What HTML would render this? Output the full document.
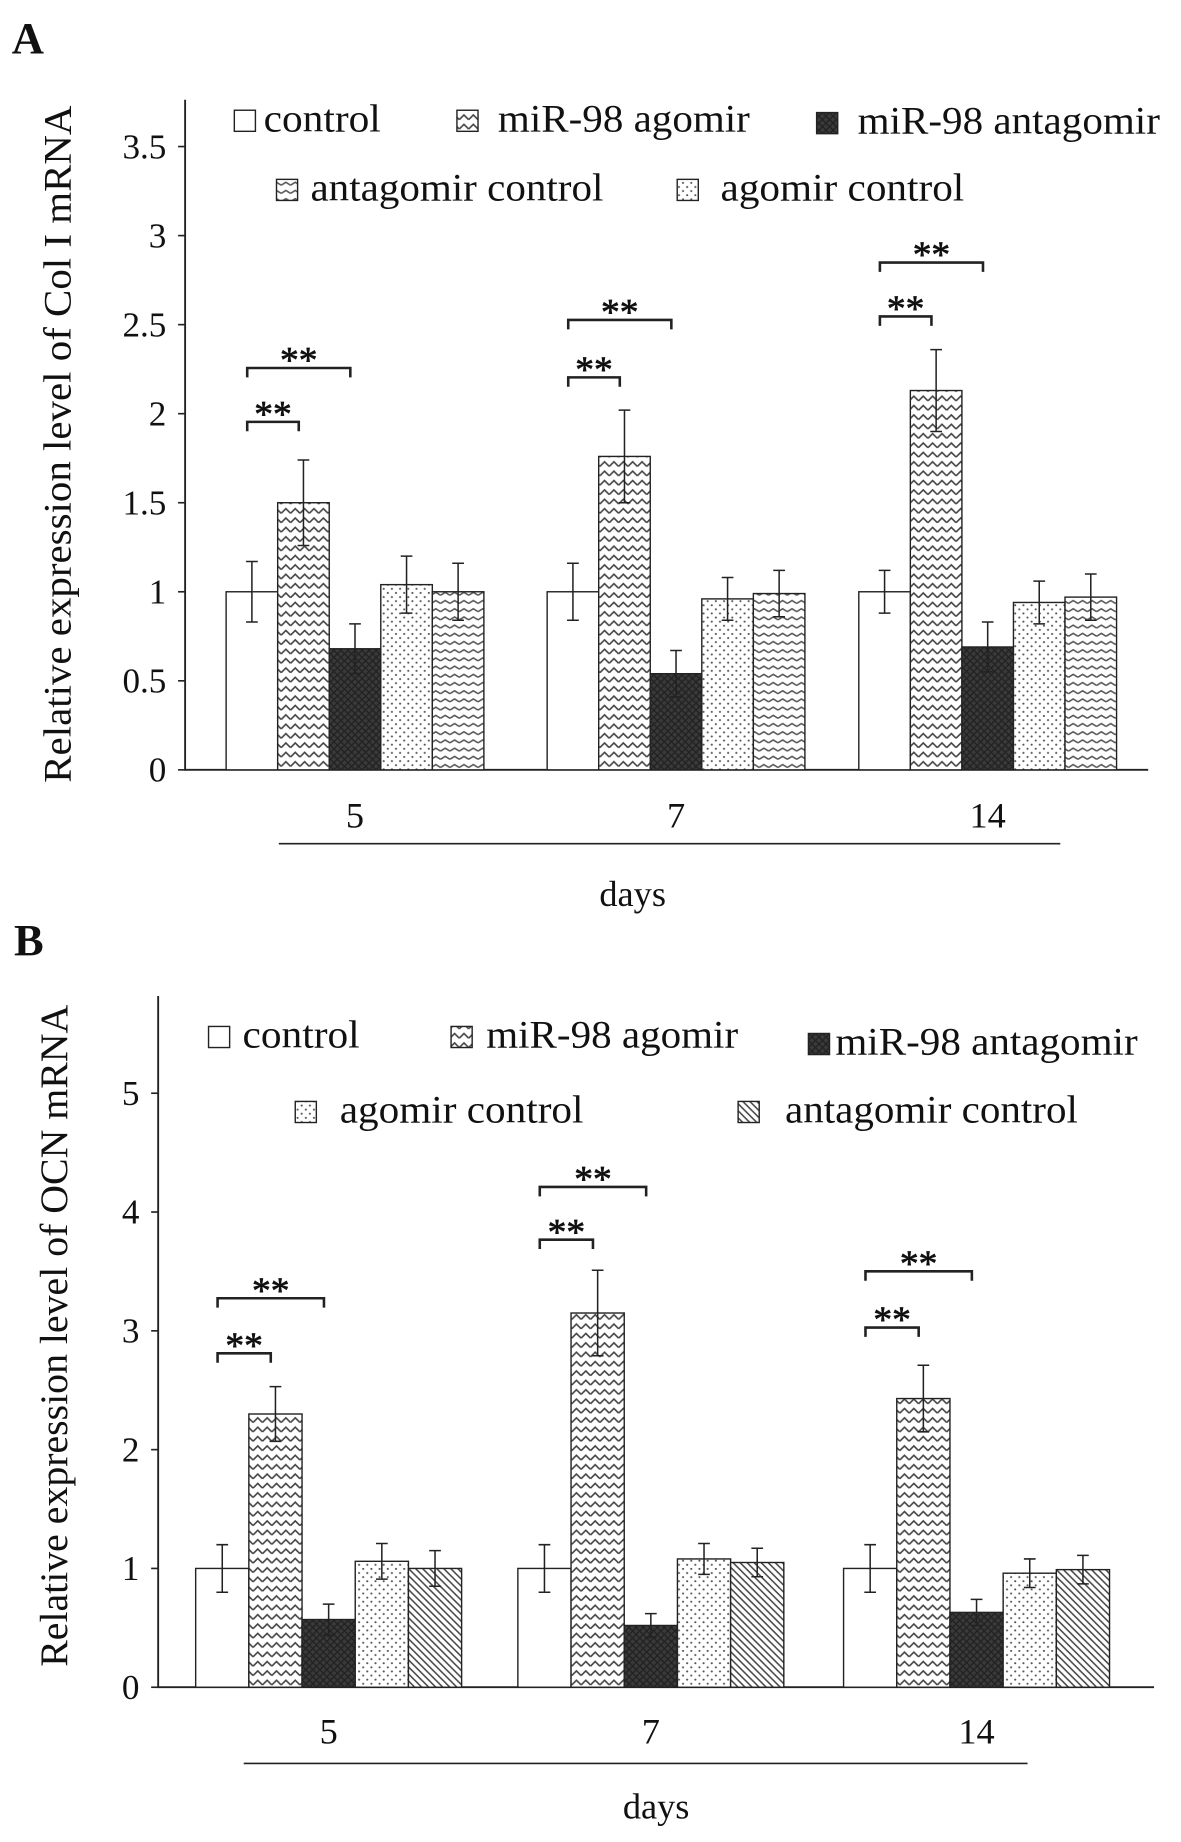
<!DOCTYPE html>
<html><head><meta charset="utf-8">
<style>
html,body{margin:0;padding:0;background:#fff}
svg{display:block}
text{font-family:"Liberation Serif",serif;fill:#111}
</style></head>
<body>
<svg id="fig" width="1181" height="1842" viewBox="0 0 1008 1572" xmlns="http://www.w3.org/2000/svg">
<defs>
<pattern id="zig" width="8" height="8" patternUnits="userSpaceOnUse"><rect width="8" height="8" fill="#fff"/><path d="M0 6 L4 2 L8 6" fill="none" stroke="#444" stroke-width="1.4"/></pattern>
<pattern id="dark" width="6" height="6" patternUnits="userSpaceOnUse"><rect width="6" height="6" fill="#3a3a3a"/><path d="M0 0 L6 6 M6 0 L0 6" stroke="#222" stroke-width="1.2"/></pattern>
<pattern id="dots" width="7" height="7" patternUnits="userSpaceOnUse"><rect width="7" height="7" fill="#fff"/><circle cx="2" cy="2" r="0.9" fill="#555"/><circle cx="5.5" cy="5.5" r="0.9" fill="#555"/></pattern>
<pattern id="hwave" width="8" height="7" patternUnits="userSpaceOnUse"><rect width="8" height="7" fill="#fff"/><path d="M0 4 L4 1.5 L8 4" fill="none" stroke="#555" stroke-width="1.3"/></pattern>
<pattern id="diag" width="6" height="6" patternUnits="userSpaceOnUse"><rect width="6" height="6" fill="#fff"/><path d="M0 0 L6 6 M-3 3 L3 9 M3 -3 L9 3" stroke="#444" stroke-width="1.3"/></pattern>
</defs>
<g id="chartA"></g>
<g id="chartB"></g>
</svg>
<script>
const categories = ["5","7","14"];
const seriesA = ["control","miR-98 agomir","miR-98 antagomir","agomir control","antagomir control"];
const valuesA = [[1.0,1.5,0.68,1.04,1.0],[1.0,1.76,0.54,0.96,0.99],[1.0,2.13,0.69,0.94,0.97]];
const errorsA = [[0.17,0.24,0.14,0.16,0.16],[0.16,0.26,0.13,0.12,0.13],[0.12,0.23,0.14,0.12,0.13]];
const ticksA = ["0","0.5","1","1.5","2","2.5","3","3.5"];
const tickValsA = [0,0.5,1,1.5,2,2.5,3,3.5];
const seriesB = ["control","miR-98 agomir","miR-98 antagomir","agomir control","antagomir control"];
const valuesB = [[1.0,2.3,0.57,1.06,1.0],[1.0,3.15,0.52,1.08,1.05],[1.0,2.43,0.63,0.96,0.99]];
const errorsB = [[0.2,0.23,0.13,0.15,0.15],[0.2,0.36,0.1,0.13,0.12],[0.2,0.28,0.11,0.12,0.12]];
const ticksB = ["0","1","2","3","4","5"];
const tickValsB = [0,1,2,3,4,5];

const NS="http://www.w3.org/2000/svg";
function mk(parent,tag,attrs,txt){const e=document.createElementNS(NS,tag);for(const k in attrs)e.setAttribute(k,attrs[k]);if(txt!==undefined)e.textContent=txt;parent.appendChild(e);return e;}

function draw(cfg){
  const g=document.getElementById(cfg.id);
  const y=v=>cfg.y0-v*cfg.ppu;
  const pl=mk(g,'text',{x:cfg.letterX,y:cfg.letterY,'font-size':38,'font-weight':'bold'},cfg.letter);
  
  
  const ax=mk(g,'path',{d:`M${cfg.axX} ${cfg.axTop} L${cfg.axX} ${cfg.y0} L${cfg.axRight} ${cfg.y0}`,fill:'none',stroke:'#222','stroke-width':1.6});
  
  
  cfg.tickVals.forEach((tv,i)=>{
    mk(g,'line',{x1:cfg.axX-6,x2:cfg.axX,y1:y(tv),y2:y(tv),stroke:'#222','stroke-width':1.4});
    const t=mk(g,'text',{x:cfg.axX-16,y:y(tv)+10,'font-size':30,'text-anchor':'end'},cfg.ticks[i]);
    
    
  });
  const yt=mk(g,'text',{x:0,y:0,'font-size':33,'text-anchor':'middle',textLength:cfg.ytLen,lengthAdjust:'spacingAndGlyphs',transform:`translate(${cfg.ytX},${cfg.ytY}) rotate(-90)`},cfg.ytitle);
  
  
  categories.forEach((c,gi)=>{
    cfg.values[gi].forEach((v,si)=>{
      const x=cfg.groupX[gi]+si*cfg.bw;
      const r=mk(g,'rect',{x:x,y:y(v),width:cfg.bw,height:y(0)-y(v),fill:cfg.fills[si],stroke:'#222','stroke-width':1.2});
      
      
      const e=cfg.errors[gi][si], cx=x+cfg.bw/2;
      const eb=mk(g,'path',{d:`M${cx} ${y(v+e)} L${cx} ${y(v-e)} M${cx-5} ${y(v+e)} L${cx+5} ${y(v+e)} M${cx-5} ${y(v-e)} L${cx+5} ${y(v-e)}`,stroke:'#222','stroke-width':1.3,fill:'none'});
      
      
    });
    const cl=mk(g,'text',{x:cfg.groupX[gi]+2.5*cfg.bw,y:cfg.catY,'font-size':31,'text-anchor':'middle'},c);
    
    
    cfg.brackets[gi].forEach(b=>{
      const x1=cfg.groupX[gi]+cfg.bw/2-4, x2=cfg.groupX[gi]+b.to*cfg.bw+cfg.bw/2-4;
      const br=mk(g,'path',{d:`M${x1} ${b.y+8} L${x1} ${b.y} L${x2} ${b.y} L${x2} ${b.y+8}`,fill:'none',stroke:'#222','stroke-width':2.2});
      
      
      const st=mk(g,'text',{x:(x1+x2)/2,y:b.y+4,'font-size':32,'text-anchor':'middle',stroke:'#111','stroke-width':0.6},'**');
      
      
    });
  });
  const dl=mk(g,'line',{x1:cfg.dl[0],x2:cfg.dl[1],y1:cfg.dl[2],y2:cfg.dl[2],stroke:'#222','stroke-width':1.4});
  
  
  const dt=mk(g,'text',{x:cfg.daysX,y:cfg.daysY,'font-size':31,'text-anchor':'middle'},'days');
  
  
  cfg.legend.forEach(l=>{
    const lg=mk(g,'g',{});
    
    
    mk(lg,'rect',{x:l.bx,y:l.y-18,width:18,height:18,fill:cfg.fills[l.s],stroke:'#222','stroke-width':1.2});
    mk(lg,'text',{x:l.tx,y:l.y,'font-size':33,textLength:l.len,lengthAdjust:'spacingAndGlyphs'},cfg.series[l.s]);
  });
}

draw({id:'chartA',letter:'A',letterX:10,letterY:45,y0:657,ppu:152,axX:158,axTop:85,axRight:980,
  tickVals:tickValsA,ticks:ticksA,ytitle:'Relative expression level of Col I mRNA',ytX:60,ytY:379,ytLen:578,
  values:valuesA,errors:errorsA,series:seriesA,groupX:[193,467,733],bw:44,
  fills:['#fff','url(#zig)','url(#dark)','url(#dots)','url(#hwave)'],catY:706,
  brackets:[[{y:360,to:1},{y:314,to:2}],[{y:322,to:1},{y:273,to:2}],[{y:270,to:1},{y:224,to:2}]],
  dl:[238,905,720],daysX:540,daysY:773,
  legend:[{s:0,bx:200,tx:225,y:112,len:100},{s:1,bx:390,tx:425,y:112,len:215},{s:2,bx:697,tx:732,y:114,len:258},{s:4,bx:236,tx:265,y:171,len:250},{s:3,bx:578,tx:615,y:171,len:208}]});
draw({id:'chartB',letter:'B',letterX:12,letterY:815,y0:1440,ppu:101.4,axX:135,axTop:850,axRight:985,
  tickVals:tickValsB,ticks:ticksB,ytitle:'Relative expression level of OCN mRNA',ytX:57,ytY:1140,ytLen:565,
  values:valuesB,errors:errorsB,series:seriesB,groupX:[167,442,720],bw:45.4,
  fills:['#fff','url(#zig)','url(#dark)','url(#dots)','url(#diag)'],catY:1488,
  brackets:[[{y:1155,to:1},{y:1108,to:2}],[{y:1058,to:1},{y:1013,to:2}],[{y:1133,to:1},{y:1085,to:2}]],
  dl:[208,877,1505],daysX:560,daysY:1552,
  legend:[{s:0,bx:178,tx:207,y:894,len:100},{s:1,bx:385,tx:415,y:894,len:215},{s:2,bx:690,tx:713,y:900,len:258},{s:3,bx:252,tx:290,y:958,len:208},{s:4,bx:630,tx:670,y:958,len:250}]});
</script>
</body></html>
